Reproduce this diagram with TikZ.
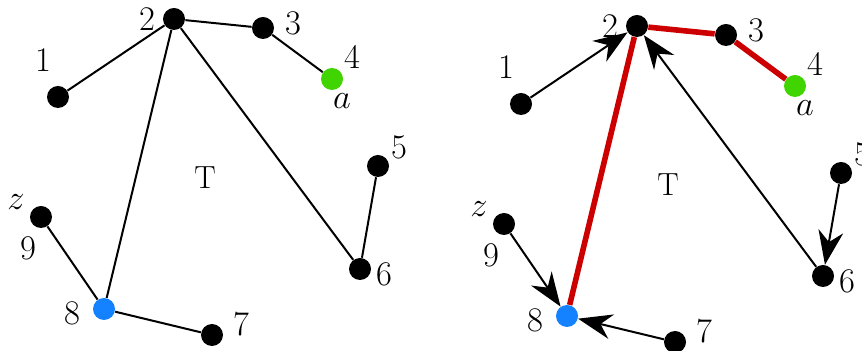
\documentclass[tikz,border=0pt]{standalone}
\usetikzlibrary{arrows.meta}
\definecolor{rootgreen}{RGB}{64,212,0}
\definecolor{goalblue}{RGB}{20,130,255}
\definecolor{pathred}{RGB}{204,0,0}
\tikzset{
  vertex/.style={circle,fill=black,minimum size=11pt,inner sep=0pt},
  edge/.style={line width=1pt},
  treearc/.style={line width=1pt,-{Stealth[length=17pt,width=12.5pt,inset=5.5pt]}},
  pathedge/.style={line width=2.8pt,pathred},
}
\begin{document}
\begin{tikzpicture}[x=0.5pt,y=-0.5pt,font=\fontsize{16}{19}\selectfont]
\useasboundingbox (0,0) rectangle (862,351);
% left: the tree T
\node[vertex] (l1) at (58,97) {};
\node[vertex] (l2) at (174,19) {};
\node[vertex] (l3) at (263,28) {};
\node[vertex,fill=rootgreen] (l4) at (332,79) {};
\node[vertex] (l5) at (378,166) {};
\node[vertex] (l6) at (360,269) {};
\node[vertex] (l7) at (212,335) {};
\node[vertex,fill=goalblue] (l8) at (104,309) {};
\node[vertex] (l9) at (41,217) {};
\node (l1t) at (43,60) {$1$};
\node (l2t) at (147,19) {$2$};
\node (l3t) at (293,23) {$3$};
\node (l4t) at (352,57) {$4$};
\node (lat) at (342,101) {$a$};
\node (l5t) at (399,147) {$5$};
\node (l6t) at (384,274) {$6$};
\node (l7t) at (241,324) {$7$};
\node (l8t) at (72,313) {$8$};
\node (l9t) at (28,248) {$9$};
\node (lzt) at (16,202) {$z$};
\node (lT) at (205,178) {T};
\draw[edge] (l1) -- (l2);
\draw[edge] (l2) -- (l3);
\draw[edge] (l3) -- (l4);
\draw[edge] (l2) -- (l8);
\draw[edge] (l2) -- (l6);
\draw[edge] (l5) -- (l6);
\draw[edge] (l9) -- (l8);
\draw[edge] (l8) -- (l7);
% right: the tree rooted at a, path to z in red
\begin{scope}[shift={(463,7)}]
\node[vertex] (r1) at (58,97) {};
\node[vertex] (r2) at (174,19) {};
\node[vertex] (r3) at (263,28) {};
\node[vertex,fill=rootgreen] (r4) at (332,79) {};
\node[vertex] (r5) at (378,166) {};
\node[vertex] (r6) at (360,269) {};
\node[vertex] (r7) at (212,335) {};
\node[vertex,fill=goalblue] (r8) at (104,309) {};
\node[vertex] (r9) at (41,217) {};
\node (r1t) at (43,60) {$1$};
\node (r2t) at (147,19) {$2$};
\node (r3t) at (293,23) {$3$};
\node (r4t) at (352,57) {$4$};
\node (rat) at (342,101) {$a$};
\node (r5t) at (399,147) {$5$};
\node (r6t) at (384,274) {$6$};
\node (r7t) at (241,324) {$7$};
\node (r8t) at (72,313) {$8$};
\node (r9t) at (28,248) {$9$};
\node (rzt) at (16,202) {$z$};
\node (rT) at (205,178) {T};
\draw[pathedge] (r2) -- (r3);
\draw[pathedge] (r3) -- (r4);
\draw[pathedge] (r2) -- (r8);
\draw[treearc] (r1) -- (r2);
\draw[treearc] (r6) -- (r2);
\draw[treearc] (r5) -- (r6);
\draw[treearc] (r9) -- (r8);
\draw[treearc] (r7) -- (r8);
\end{scope}
\end{tikzpicture}
\end{document}
